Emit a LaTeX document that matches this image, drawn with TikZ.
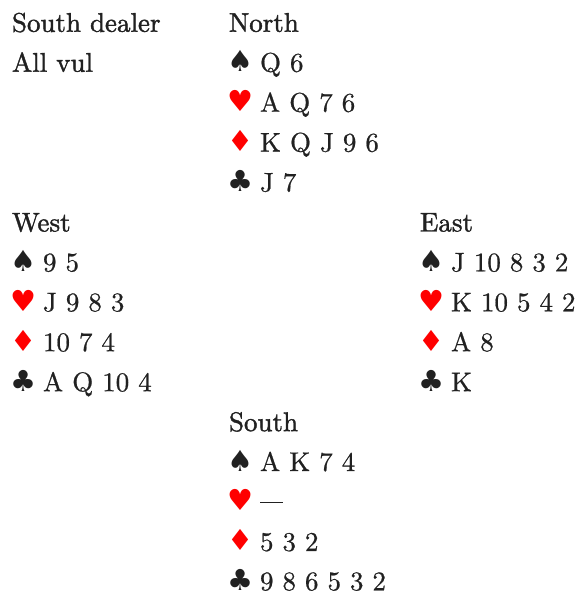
\documentclass[tikz,border=0pt]{standalone}
\usepackage{fontspec}
\newfontfamily\symf{DejaVu Sans}
\newfontfamily\hdrf{lmroman10-regular.otf}[FakeBold=1.4]
\newfontfamily\bodyf{lmroman10-regular.otf}[FakeBold=0.7]
\definecolor{ink}{gray}{0.13}
\definecolor{suitred}{RGB}{255,0,0}
\newcommand\bodyset{\fontsize{27}{30}\selectfont\bodyf\spaceskip=9pt\relax}
\newcommand\hdrset{\fontsize{27}{30}\selectfont\hdrf\spaceskip=9pt\relax}
\newcommand\suitbox[2]{\makebox[22pt][c]{\textcolor{#1}{\symf\fontsize{29}{30}\selectfont #2}}\hspace{9pt}}
\newcommand\Sp{\suitbox{ink}{♠}}
\newcommand\He{\suitbox{suitred}{♥}}
\newcommand\Di{\suitbox{suitred}{♦}}
\newcommand\Cl{\suitbox{ink}{♣}}
\tikzset{
  handline/.style={anchor=base west, inner sep=0pt, outer sep=0pt, text=ink, font=\bodyset},
  hdrline/.style={handline, font=\hdrset}
}
\begin{document}
\begin{tikzpicture}[x=1pt,y=1pt]
\useasboundingbox (0,0) rectangle (580,-593);
% info
\node[hdrline] (dealer) at (12,-31.8) {South dealer};
\node[hdrline] (vul) at (12,-71.7) {All vul};
% North
\node[hdrline] (north) at (229,-31.8) {North};
\node[handline] (ns) at (229,-71.7) {\Sp Q 6};
\node[handline] (nh) at (229,-111.7) {\He A Q 7 6};
\node[handline] (nd) at (229,-151.6) {\Di K Q J 9 6};
\node[handline] (nc) at (229,-191.5) {\Cl J 7};
% West
\node[hdrline] (west) at (12,-231.5) {West};
\node[handline] (ws) at (12,-271.4) {\Sp 9 5};
\node[handline] (wh) at (12,-311.3) {\He J 9 8 3};
\node[handline] (wd) at (12,-351.2) {\Di 10 7 4};
\node[handline] (wc) at (12,-391.2) {\Cl A Q 10 4};
% East
\node[hdrline] (east) at (420,-231.5) {East};
\node[handline] (es) at (420,-271.4) {\Sp J 10 8 3 2};
\node[handline] (eh) at (420,-311.3) {\He K 10 5 4 2};
\node[handline] (ed) at (420,-351.2) {\Di A 8};
\node[handline] (ec) at (420,-391.2) {\Cl K};
% South
\node[hdrline] (south) at (229,-431.1) {South};
\node[handline] (ss) at (229,-471.0) {\Sp A K 7 4};
\node[handline] (sh) at (229,-510.9) {\He \makebox[23pt][l]{\rule[8pt]{23pt}{1.4pt}}};
\node[handline] (sd) at (229,-550.9) {\Di 5 3 2};
\node[handline] (sc) at (229,-590.3) {\Cl 9 8 6 5 3 2};
\end{tikzpicture}
\end{document}
